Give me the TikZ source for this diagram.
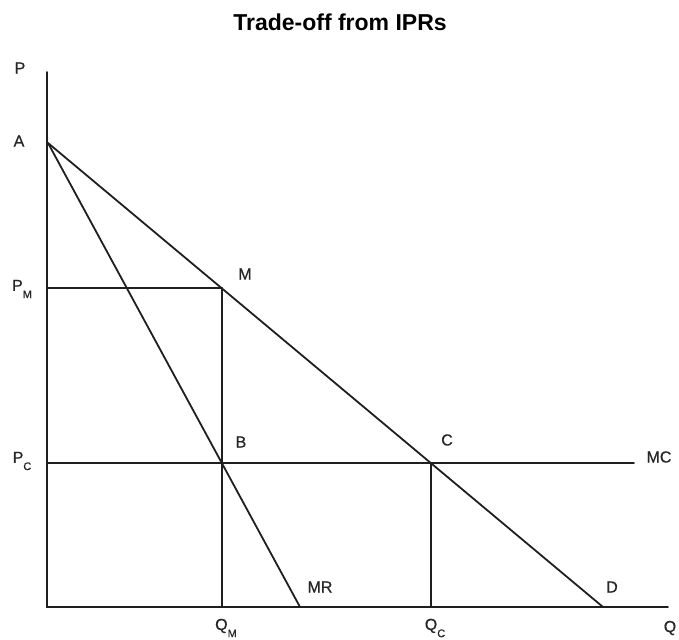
\documentclass[tikz,border=0pt]{standalone}
\usepackage{fontspec}
\setmainfont{Liberation Sans}
\newfontfamily\lblfont{Liberation Sans}[FakeBold=0.6]
\usetikzlibrary{calc}

\newcommand{\lowsub}[1]{\raisebox{-0.45em}{\fontsize{11}{11}\selectfont #1}}

\begin{document}
\begin{tikzpicture}[x=1pt, y=-1pt,
    curve/.style={black!88, line width=1.8pt, line cap=round},
    lbl/.style={black!85, font=\lblfont\fontsize{16}{16}\selectfont, inner sep=0pt}]
    \useasboundingbox (0,0) rectangle (679,639);

    % Title
    \node[font=\fontsize{23}{23}\selectfont\bfseries] (title) at (340,22) {Trade-off from IPRs};

    % Key points
    \coordinate (O) at (47,607);
    \coordinate (Ptop) at (47,72);
    \coordinate (Qend) at (668,607);
    \coordinate (A) at (48,143);
    \coordinate (D) at (603,607);
    \coordinate (R) at (300,607);
    \coordinate (M) at (222,288);
    \coordinate (B) at (222,463);
    \coordinate (C) at (431,463);
    \coordinate (PM) at (47,288);
    \coordinate (PC) at (47,463);
    \coordinate (MCend) at (634,463);
    \coordinate (QM) at (222,607);
    \coordinate (QC) at (431,607);

    % Axes
    \draw[curve] (Ptop) -- (O) -- (Qend);

    % Demand and marginal revenue
    \draw[curve] (A) -- (D);
    \draw[curve] (A) -- (R);

    % Price levels
    \draw[curve] (PM) -- (M);
    \draw[curve] (PC) -- (MCend);

    % Quantities
    \draw[curve] (M) -- (QM);
    \draw[curve] (C) -- (QC);

    % Labels
    \node[lbl] (lP) at (20,68) {P};
    \node[lbl] (lA) at (19,141) {A};
    \node[lbl] (lPM) at (22,289) {P\lowsub{M}};
    \node[lbl] (lPC) at (22,461) {P\lowsub{C}};
    \node[lbl] (lM) at (245,274) {M};
    \node[lbl] (lB) at (241,442) {B};
    \node[lbl] (lC) at (447,440) {C};
    \node[lbl] (lMC) at (659,457) {MC};
    \node[lbl] (lMR) at (320,587) {MR};
    \node[lbl] (lD) at (612,587) {D};
    \node[lbl] (lQM) at (226,628) {Q\lowsub{M}};
    \node[lbl] (lQC) at (435,628) {Q\lowsub{C}};
    \node[lbl] (lQ) at (670,628) {Q};
\end{tikzpicture}
\end{document}
